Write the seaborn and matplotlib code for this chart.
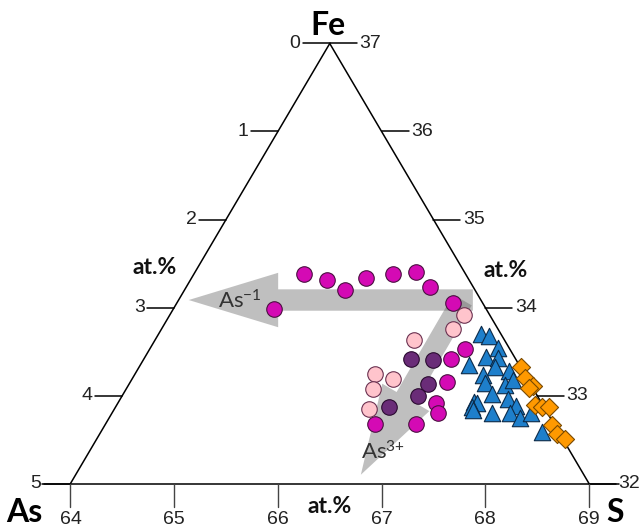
import matplotlib
matplotlib.use("Agg")
import matplotlib.pyplot as plt
from matplotlib.patches import FancyArrowPatch, ArrowStyle
import pandas as pd
import seaborn as sns

# ---- axis scales of the ternary section -------------------------------
bottom_ticks = [64, 65, 66, 67, 68, 69]          # S at.% along the base
left_ticks = [0, 1, 2, 3, 4, 5]                  # As-side edge, apex -> As
right_ticks = [37, 36, 35, 34, 33, 32]           # Fe at.% along the right edge
corner_labels = ["As", "S", "Fe"]
unit_label = "at.%"

# ---- analyses: (S at.%, Fe at.%) ---------------------------------------
magenta_s = [66.25, 66.47, 66.65, 66.85, 67.11, 67.33, 67.47, 65.96, 67.69,
             67.80, 67.67, 67.63, 67.52, 67.54, 66.94, 67.33]
magenta_fe = [34.38, 34.31, 34.20, 34.34, 34.38, 34.40, 34.23, 33.98, 34.05,
              33.53, 33.42, 33.15, 32.91, 32.80, 32.68, 32.68]

pink_s = [67.79, 67.69, 67.31, 66.94, 67.11, 66.92, 66.88]
pink_fe = [33.91, 33.76, 33.63, 33.24, 33.19, 33.07, 32.85]

purple_s = [67.28, 67.50, 67.45, 67.35, 67.07]
purple_fe = [33.42, 33.40, 33.13, 32.99, 32.87]

blue_s = [67.96, 68.04, 68.12, 68.01, 68.12, 67.84, 68.09, 68.23, 67.98,
          68.00, 68.19, 68.27, 68.06, 68.22, 67.89, 67.92, 67.87, 68.30,
          68.06, 68.24, 68.33, 68.44, 68.55, 67.88]
blue_fe = [33.70, 33.68, 33.54, 33.44, 33.43, 33.35, 33.32, 33.28, 33.23,
           33.14, 33.12, 33.18, 33.02, 32.96, 32.93, 32.91, 32.87, 32.88,
           32.80, 32.80, 32.75, 32.80, 32.58, 32.84]

orange_s = [68.34, 68.38, 68.46, 68.42, 68.48, 68.55, 68.61, 68.64, 68.69, 68.77]
orange_fe = [33.32, 33.20, 33.11, 33.09, 32.89, 32.87, 32.87, 32.67, 32.56, 32.51]

# trend arrows: (S, Fe) start -> tip
arrow_as1 = [(67.88, 34.085), (65.14, 34.085)]
arrow_as3 = [(67.78, 34.085), (66.80, 32.10)]

sns.set_style("white")
plt.rcParams["font.family"] = ["Liberation Sans", "DejaVu Sans"]
plt.rcParams["mathtext.default"] = "regular"

fig = plt.figure(figsize=(6.42, 5.32), dpi=100)
ax = fig.add_axes([0, 0, 1, 1])
ax.set_xlim(63.3202, 69.5111)
ax.set_ylim(31.4489, 37.4943)
ax.axis("off")

lo, hi = bottom_ticks[0], bottom_ticks[-1]
fe_lo, fe_hi = right_ticks[-1], right_ticks[0]
apex_s = (lo + hi) / 2


def left_edge(fe):
    return lo + (fe - fe_lo) / (fe_hi - fe_lo) * (apex_s - lo)


def right_edge(fe):
    return hi - (fe - fe_lo) / (fe_hi - fe_lo) * (hi - apex_s)


# triangle outline
ax.plot([lo, apex_s, hi], [fe_lo, fe_hi, fe_lo], color="black", lw=1.1,
        solid_joinstyle="miter", zorder=2)
ax.plot([lo - 0.27, hi + 0.29], [fe_lo, fe_lo], color="black", lw=1.1, zorder=2)

tick_dx = 0.26
tick_dy = 0.27
num_kw = dict(fontsize=14, color="#222222", family=["Liberation Sans", "DejaVu Sans"])

# left-edge ticks (horizontal, pointing left)
for i, lab in enumerate(left_ticks):
    fe = fe_hi - i
    x0 = left_edge(fe)
    ax.plot([x0 - tick_dx, x0], [fe, fe], color="black", lw=1.1, zorder=2)
    ax.text(x0 - tick_dx - 0.025, fe, str(lab), ha="right", va="center", **num_kw)

# right-edge ticks (horizontal, pointing right)
for lab in right_ticks:
    x0 = right_edge(lab)
    ax.plot([x0, x0 + tick_dx], [lab, lab], color="black", lw=1.1, zorder=2)
    ax.text(x0 + tick_dx + 0.025, lab, str(lab), ha="left", va="center", **num_kw)

# bottom ticks (vertical, pointing down)
for lab in bottom_ticks:
    ax.plot([lab, lab], [fe_lo, fe_lo - tick_dy], color="#444444", lw=1.0, zorder=2)
    ax.text(lab, fe_lo - tick_dy - 0.04, str(lab), ha="center", va="top", **num_kw)

# corner and unit labels
corner_kw = dict(fontsize=23, fontweight="bold", color="black", family=["Lato", "DejaVu Sans"])
ax.text(63.55, 31.665, corner_labels[0], ha="center", va="center", **corner_kw)
ax.text(69.25, 31.665, corner_labels[1], ha="center", va="center", **corner_kw)
ax.text(66.48, 37.20, corner_labels[2], ha="center", va="center", **corner_kw)

unit_kw = dict(fontsize=16.5, fontweight="bold", color="#111111", family=["Lato", "DejaVu Sans"])
ax.text(64.815, 34.46, unit_label, ha="center", va="center", **unit_kw)
ax.text(68.200, 34.425, unit_label, ha="center", va="center", **unit_kw)
ax.text(66.50, 31.74, unit_label, ha="center", va="center", **unit_kw)

# trend arrows
arrow_style = ArrowStyle.Simple(head_length=46, head_width=28, tail_width=11)
for (p0, p1) in (arrow_as1, arrow_as3):
    ax.add_patch(FancyArrowPatch(p0, p1, arrowstyle=arrow_style, mutation_scale=1.4,
                                 color="#606060", alpha=0.4, lw=0, zorder=3,
                                 shrinkA=0, shrinkB=0))

lbl_kw = dict(fontsize=16, color="#333333", family=["Lato", "DejaVu Sans"], zorder=4)
ax.text(65.42, 34.07, "As$^{-1}$", ha="left", va="center", **lbl_kw)
ax.text(66.80, 32.36, "As$^{3{+}}$", ha="left", va="center", **lbl_kw)

# analyses
groups = [
    (magenta_s, magenta_fe, "o", "#D40AB4", "#4a1040", 125),
    (pink_s, pink_fe, "o", "#FFC4CC", "#6a3050", 125),
    (purple_s, purple_fe, "o", "#6A2C78", "#2a0a30", 125),
    (blue_s, blue_fe, "^", "#1E7FCB", "#0c2a48", 140),
    (orange_s, orange_fe, "D", "#FF9900", "#7a4a00", 85),
]
for s_vals, fe_vals, mk, fc, ec, size in groups:
    df = pd.DataFrame({"S": s_vals, "Fe": fe_vals})
    sns.scatterplot(data=df, x="S", y="Fe", marker=mk, color=fc, edgecolor=ec,
                    linewidth=0.8, s=size, ax=ax, zorder=5, legend=False)

ax.set_xlim(63.3202, 69.5111)
ax.set_ylim(31.4489, 37.4943)
fig.savefig("out.png", dpi=100, facecolor="white")
